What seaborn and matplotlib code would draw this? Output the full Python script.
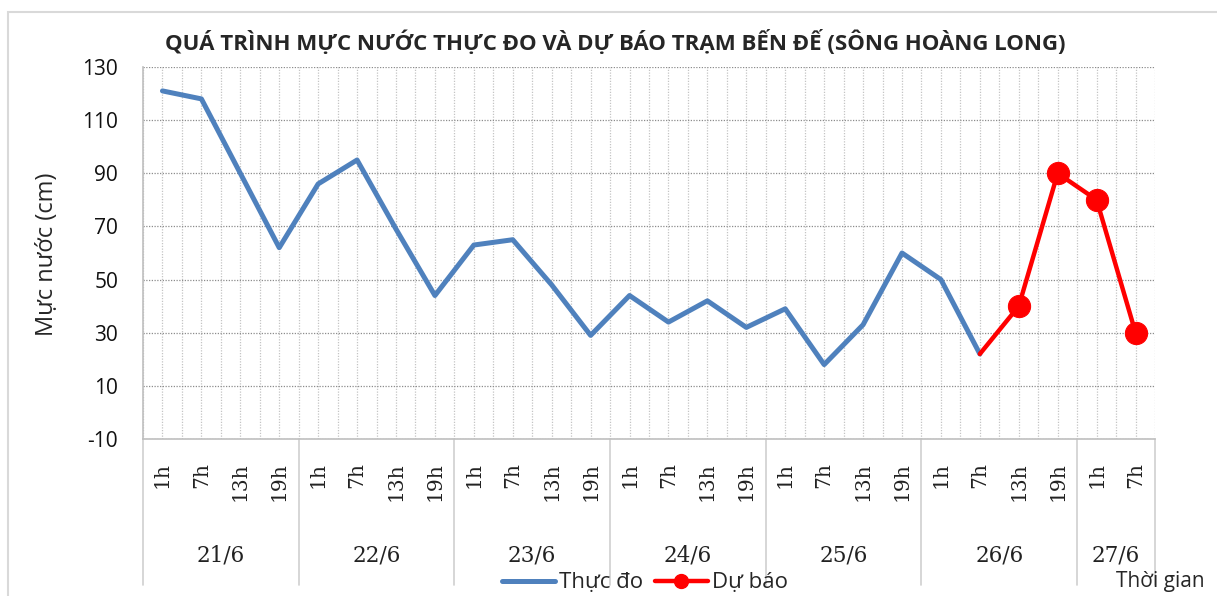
import numpy as np
import pandas as pd
import matplotlib
matplotlib.use("Agg")
import matplotlib.pyplot as plt
import matplotlib.transforms as mtransforms
from matplotlib.lines import Line2D
from matplotlib.patches import Rectangle
import seaborn as sns

# chart data
days = ['21/6', '22/6', '23/6', '24/6', '25/6', '26/6', '27/6']
day_sizes = [4, 4, 4, 4, 4, 4, 2]
hour_labels = ['1h', '7h', '13h', '19h'] * 6 + ['1h', '7h']
observed = [121, 118, 90, 62, 86, 95, 69, 44, 63, 65, 48, 29,
            44, 34, 42, 32, 39, 18, 33, 60, 50, 22]
forecast = [22, 40, 90, 80, 30]  # first value joins the observed line
title = 'QUÁ TRÌNH MỰC NƯỚC THỰC ĐO VÀ DỰ BÁO TRẠM BẾN ĐẾ (SÔNG HOÀNG LONG)'

blue = '#4F81BD'
red = '#FF0000'

sns.set_style('white')
plt.rcParams['font.family'] = ['Open Sans', 'DejaVu Sans']
plt.rcParams['axes.unicode_minus'] = False

W, H = 1217, 596
fig = plt.figure(figsize=(W / 100, H / 100), dpi=100)

# outer chart frame
fig.patches.append(Rectangle((8 / W, -0.05), 1.1, 1 - 12 / H + 0.05, transform=fig.transFigure,
                             fill=False, edgecolor='#d9d9d9', lw=1.5))

ax = fig.add_axes([143 / W, 1 - 439 / H, 1012 / W, 372 / H])

obs_df = pd.DataFrame({'pos': np.arange(len(observed)), 'value': observed})
fc_start = len(observed) - 1
fc_df = pd.DataFrame({'pos': np.arange(fc_start, fc_start + len(forecast)), 'value': forecast})

sns.lineplot(data=obs_df, x='pos', y='value', ax=ax, color=blue, lw=3.6, zorder=3)
sns.lineplot(data=fc_df, x='pos', y='value', ax=ax, color=red, lw=3.2, zorder=4,
             marker='o', markersize=16, markeredgecolor=red, markevery=list(range(1, len(forecast))))

n = len(hour_labels)
ax.set_xlim(-0.5, n - 0.5)
ax.set_ylim(-10, 130)
ax.set_yticks(range(-10, 131, 20))
ax.set_xticks(range(n))
ax.set_xticks(np.arange(-0.5, n, 1), minor=True)
ax.set_xticklabels(hour_labels, rotation=90, fontsize=14.5, family='DejaVu Serif', color='#222222')
ax.tick_params(axis='x', which='both', length=0, pad=17)
ax.tick_params(axis='y', length=0, pad=18, labelsize=15, labelcolor='#111111')
ax.set_xlabel('')
ax.set_ylabel('')

# dotted gridlines
ax.grid(axis='y', which='major', ls=(0, (1, 1.2)), color='#8c8c8c', lw=0.9)
ax.grid(axis='x', which='both', ls=(0, (1, 1.2)), color='#c4c4c4', lw=0.9)
ax.set_axisbelow(True)

for side in ['top', 'right']:
    ax.spines[side].set_visible(False)
for side in ['left', 'bottom']:
    ax.spines[side].set_color('#bfbfbf')
    ax.spines[side].set_linewidth(1.2)

# day group labels and separators under the axis
trans = mtransforms.blended_transform_factory(ax.transData, ax.transAxes)
edges = np.concatenate([[0], np.cumsum(day_sizes)]) - 0.5
sep_bottom = -(585 - 439) / 372
for e in edges:
    ax.plot([e, e], [0, sep_bottom], transform=trans, color='#d0d0d0', lw=1.2, clip_on=False)
for d, a, b in zip(days, edges[:-1], edges[1:]):
    ax.text((a + b) / 2, -(555 - 439) / 372, d, transform=trans, ha='center', va='center',
            fontsize=15.5, family='DejaVu Serif', color='#222222')

fig.text(615 / W, 1 - 43 / H, title, ha='center', va='center', fontsize=16, fontweight='bold')
fig.text(47 / W, 1 - 254 / H, 'Mực nước (cm)', rotation=90, ha='center', va='center', fontsize=17)
fig.text(1160 / W, 1 - 581 / H, 'Thời gian', ha='center', va='center', fontsize=15)

handles = [Line2D([], [], color=blue, lw=3.6),
           Line2D([], [], color=red, lw=3.2, marker='o', markersize=10)]
fig.legend(handles, ['Thực đo', 'Dự báo'], loc='center', bbox_to_anchor=(645 / W, 1 - 583 / H),
           ncol=2, frameon=False, fontsize=16, handlelength=2.4, handletextpad=0.2,
           columnspacing=0.5, borderpad=0)

fig.savefig('out.png', dpi=100)
